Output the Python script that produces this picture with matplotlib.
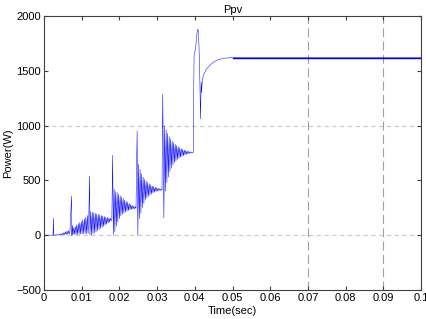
import matplotlib
matplotlib.use("Agg")
import matplotlib.pyplot as plt
import numpy as np

plt.rcParams['font.family'] = ['Liberation Sans', 'DejaVu Sans']

# sample step inside the ripple bands (s)
dt = 0.0002

# ripple bands between the perturbation spikes: (start time, samples)
band_b_t0 = 0.0027
band_b = [0, 3, 0, 4, 0, 6, 0, 8, 2, 12, 3, 18, 4, 24, 5, 30, 6, 36, 8, 40, 10, 42]
band_c_t0 = 0.0075
band_c = [90, 0, 70, 10, 80, 5, 95, 5, 105, 8, 115, 10, 125, 12, 140, 10, 150, 15,
          165, 10, 180, 15, 195]
band_d_t0 = 0.0124
band_d = [215, 0, 210, 10, 205, 20, 200, 30, 195, 40, 190, 50, 185, 60, 180, 70,
          175, 80, 170, 90, 165, 100, 160, 110, 158, 120, 155, 130, 150]
band_e_t0 = 0.0186
band_e = [420, 30, 400, 80, 390, 120, 375, 150, 360, 175, 350, 190, 335, 200, 320,
          210, 310, 218, 300, 225, 290, 230, 280, 235, 272, 238, 265, 240, 260, 245]
band_f_t0 = 0.0251
band_f = [650, 150, 600, 200, 560, 250, 530, 290, 510, 320, 495, 340, 480, 355,
          470, 365, 460, 375, 450, 385, 443, 392, 437, 398, 432, 402, 428, 405,
          424, 408, 420, 410]
band_g_t0 = 0.0320
band_g = [1000, 400, 960, 480, 930, 530, 900, 580, 880, 610, 860, 640, 845, 660,
          830, 675, 818, 690, 808, 700, 798, 710, 790, 718, 783, 725, 777, 732,
          772, 738, 767, 742, 763, 746, 760, 750, 758, 752]

# spikes: time of peak, peak value, time and value of the fall after it
spike_t = [0.0025, 0.0073, 0.0121, 0.0182, 0.0247, 0.0315]
spike_peak = [155, 355, 540, 730, 950, 1285]
fall_t = [0.0026, 0.0074, 0.0122, 0.0184, 0.0249, 0.0318]
fall_val = [0, 0, 0, 0, 0, 155]

# start-up
start_t = [0.0, 0.0024]
start_p = [0, 0]

# final step to MPP and settling
tail_t = [0.0396, 0.0398, 0.0402, 0.0406, 0.0408, 0.0410, 0.0413, 0.0415, 0.0417,
          0.0418, 0.0420, 0.0423, 0.0430, 0.0440, 0.0450, 0.0460, 0.0470, 0.0480,
          0.0490, 0.0500]
tail_p = [757, 1640, 1700, 1850, 1880, 1850, 1500, 1060, 1400, 1300, 1420, 1460,
          1510, 1550, 1580, 1598, 1608, 1615, 1618, 1620]

# steady state
flat_t = [0.050, 0.100]
flat_p = [1620, 1620]

xticks = [0, 0.01, 0.02, 0.03, 0.04, 0.05, 0.06, 0.07, 0.08, 0.09, 0.1]
xtick_labels = ['0', '0.01', '0.02', '0.03', '0.04', '0.05', '0.06', '0.07',
                '0.08', '0.09', '0.1']
yticks = [-500, 0, 500, 1000, 1500, 2000]

# assemble the trace
bands = [(band_b_t0, band_b), (band_c_t0, band_c), (band_d_t0, band_d),
         (band_e_t0, band_e), (band_f_t0, band_f), (band_g_t0, band_g)]
t = list(start_t)
p = list(start_p)
for i, (t0, vals) in enumerate(bands):
    t += [spike_t[i], fall_t[i]]
    p += [spike_peak[i], fall_val[i]]
    t += list(t0 + dt * np.arange(len(vals)))
    p += vals
t += tail_t + flat_t
p += tail_p + flat_p

fig = plt.figure(figsize=(4.27, 3.19), dpi=100)
ax = fig.add_axes([0.103, 0.091, 0.883, 0.859])

ax.plot(t, p, color='#0000ff', lw=0.35)
ax.plot(flat_t, flat_p, color='#0000ff', lw=1.0)

for yv in [0, 1000]:
    ax.axhline(yv, color='#c8c8c8', lw=0.8, ls=(0, (4, 3)), zorder=0)
for xv in [0.07, 0.09]:
    ax.axvline(xv, color='#a0a0a0', lw=0.8, ls=(0, (8, 4)), zorder=0)

ax.set_xlim(0, 0.1)
ax.set_ylim(-500, 2000)
ax.set_xticks(xticks)
ax.set_xticklabels(xtick_labels)
ax.set_yticks(yticks)
ax.tick_params(direction='in', length=3, top=True, right=True, labelsize=8,
               color='#404040', pad=2)
for s in ax.spines.values():
    s.set_color('#404040')
    s.set_linewidth(0.8)

ax.set_title('Ppv', fontsize=8, pad=2)
ax.set_xlabel('Time(sec)', fontsize=8, labelpad=2.5)
ax.set_ylabel('Power(W)', fontsize=8, labelpad=2)

fig.savefig('out.png', dpi=100)
